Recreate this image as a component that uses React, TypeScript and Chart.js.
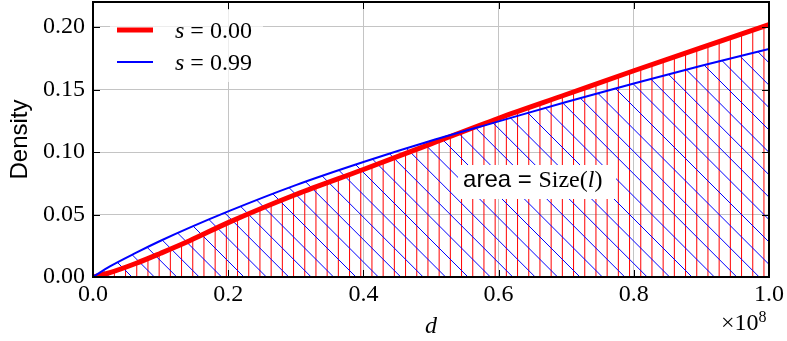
import React, { useEffect, useRef } from 'react';
import { Chart, registerables } from 'chart.js';

Chart.register(...registerables);

// ---- data ----
const xValues = [0, 0.025, 0.064, 0.1, 0.143, 0.2, 0.3, 0.4, 0.5, 0.6, 0.7, 0.8, 0.9, 1.0];
const densityS000 = [0, 0.0035, 0.011, 0.019, 0.029, 0.0435, 0.066, 0.086, 0.1065, 0.127, 0.146, 0.165, 0.1835, 0.202];
const densityS099 = [0, 0.0085, 0.0195, 0.029, 0.0395, 0.0525, 0.0735, 0.092, 0.109, 0.1245, 0.14, 0.1548, 0.169, 0.1825];
const xTickValues = [0, 0.2, 0.4, 0.6, 0.8, 1.0];
const yTickValues = [0, 0.05, 0.1, 0.15, 0.2];
const seriesValues = ['0.00', '0.99'];
const xLabel = 'd';
const yLabel = 'Density';
const xExponent = '8';
const annotationParts = ['area = ', 'Size', '(', 'l', ')'];

const SERIF = "'Liberation Serif', serif";
const SANS = "'Liberation Sans', Arial, sans-serif";

type Run = { text: string; font: string };
function drawRuns(ctx: CanvasRenderingContext2D, runs: Run[], x: number, y: number) {
  for (const r of runs) {
    ctx.font = r.font;
    ctx.fillText(r.text, x, y);
    x += ctx.measureText(r.text).width;
  }
  return x;
}

// hatched areas under each curve, clipped to the line path built by Chart.js
const hatchPlugin = {
  id: 'hatch',
  beforeDatasetsDraw(chart: any) {
    const ctx: CanvasRenderingContext2D = chart.ctx;
    const area = chart.chartArea;
    const { left, right, top, bottom } = area;
    const y0 = chart.scales.y.getPixelForValue(0);
    for (let i = chart.data.datasets.length - 1; i >= 0; i--) {
      const ds: any = chart.data.datasets[i];
      const meta = chart.getDatasetMeta(i);
      const line: any = meta.dataset;
      const pts: any[] = meta.data as any[];
      if (!line || !pts.length) continue;
      if (line.updateControlPoints) line.updateControlPoints(area, 'x');
      ctx.save();
      ctx.beginPath();
      ctx.rect(left, top, right - left, bottom - top);
      ctx.clip();
      ctx.beginPath();
      line.path(ctx);
      ctx.lineTo(pts[pts.length - 1].x, y0);
      ctx.lineTo(pts[0].x, y0);
      ctx.closePath();
      ctx.clip();
      ctx.strokeStyle = ds.borderColor;
      ctx.lineWidth = 1;
      ctx.beginPath();
      if (ds.hatch === 'vertical') {
        for (let x = 2.35; x < right + 12; x += 11.2) {
          if (x < left - 2) continue;
          ctx.moveTo(x, top - 2);
          ctx.lineTo(x, bottom + 2);
        }
      } else {
        const cMin = left - bottom - 30;
        const cMax = right - top + 30;
        const k = Math.floor((cMin - 11.8) / 22.4);
        for (let c = 11.8 + 22.4 * k; c < cMax; c += 22.4) {
          ctx.moveTo(c + top - 5, top - 5);
          ctx.lineTo(c + bottom + 5, bottom + 5);
        }
      }
      ctx.stroke();
      ctx.restore();
    }
  },
};

const decorPlugin = {
  id: 'decor',
  afterDatasetsDraw(chart: any) {
    const ctx: CanvasRenderingContext2D = chart.ctx;
    const { left, right, top, bottom } = chart.chartArea;
    const xs = chart.scales.x;
    const ys = chart.scales.y;
    ctx.save();

    // legend
    ctx.fillStyle = 'rgba(255,255,255,0.7)';
    ctx.fillRect(left + 17, top + 8, 153, 72);
    const legendColors = ['#ff0000', '#0000ff'];
    const legendWidths = [5, 2];
    const rowY = [top + 28, top + 60];
    for (let i = 0; i < seriesValues.length; i++) {
      ctx.strokeStyle = legendColors[i];
      ctx.lineWidth = legendWidths[i];
      ctx.beginPath();
      ctx.moveTo(left + 24, rowY[i]);
      ctx.lineTo(left + 60, rowY[i]);
      ctx.stroke();
      ctx.fillStyle = '#000';
      ctx.textBaseline = 'alphabetic';
      ctx.textAlign = 'left';
      drawRuns(ctx, [
        { text: 's', font: `italic 24px ${SERIF}` },
        { text: ' = ' + seriesValues[i], font: `24px ${SERIF}` },
      ], left + 82, rowY[i] + 8);
    }

    // annotation
    const ax = xs.getPixelForValue(0.54);
    const ay = ys.getPixelForValue(0.072);
    ctx.fillStyle = '#ffffff';
    ctx.fillRect(ax, ay - 22, 158, 34);
    ctx.fillStyle = '#000';
    drawRuns(ctx, [
      { text: annotationParts[0], font: `24px ${SANS}` },
      { text: annotationParts[1], font: `24px ${SERIF}` },
      { text: annotationParts[2], font: `24px ${SERIF}` },
      { text: annotationParts[3], font: `italic 24px ${SERIF}` },
      { text: annotationParts[4], font: `24px ${SERIF}` },
    ], ax + 5, ay);

    // frame
    ctx.strokeStyle = '#000';
    ctx.lineWidth = 2;
    ctx.strokeRect(left, top, right - left, bottom - top);

    // inward ticks
    ctx.lineWidth = 1;
    ctx.beginPath();
    for (const v of xTickValues) {
      const px = Math.round(xs.getPixelForValue(v)) + 0.5;
      ctx.moveTo(px, bottom);
      ctx.lineTo(px, bottom - 7);
      ctx.moveTo(px, top);
      ctx.lineTo(px, top + 7);
    }
    for (const v of yTickValues) {
      const py = Math.round(ys.getPixelForValue(v)) + 0.5;
      ctx.moveTo(left, py);
      ctx.lineTo(left + 7, py);
      ctx.moveTo(right, py);
      ctx.lineTo(right - 7, py);
    }
    ctx.stroke();

    // x offset text
    ctx.fillStyle = '#000';
    ctx.textBaseline = 'alphabetic';
    const ex = drawRuns(ctx, [{ text: '\u00d710', font: `24px ${SERIF}` }], right - 48, bottom + 53);
    ctx.font = `16px ${SERIF}`;
    ctx.fillText(xExponent, ex, bottom + 45);

    ctx.restore();
  },
};

export default function App() {
  const ref = useRef<HTMLCanvasElement>(null);
  useEffect(() => {
    const canvas = ref.current!;
    const chart = new Chart(canvas, {
      type: 'line',
      data: {
        datasets: [
          {
            label: 's = ' + seriesValues[1],
            data: xValues.map((x, i) => ({ x, y: densityS099[i] })),
            borderColor: '#0000ff',
            borderWidth: 2,
            pointRadius: 0,
            cubicInterpolationMode: 'monotone',
            fill: false,
            hatch: 'diagonal',
          },
          {
            label: 's = ' + seriesValues[0],
            data: xValues.map((x, i) => ({ x, y: densityS000[i] })),
            borderColor: '#ff0000',
            borderWidth: 5,
            pointRadius: 0,
            cubicInterpolationMode: 'monotone',
            fill: false,
            hatch: 'vertical',
          },
        ],
      },
      options: {
        animation: false,
        responsive: false,
        maintainAspectRatio: false,
        layout: { padding: { left: 0, right: 18, top: 2, bottom: 0 } },
        plugins: { legend: { display: false }, tooltip: { enabled: false } },
        scales: {
          x: {
            type: 'linear', min: 0, max: 1,
            afterBuildTicks: (s: any) => { s.ticks = xTickValues.map((v) => ({ value: v })); },
            afterFit: (s: any) => { s.height = 64; s.paddingLeft = 0; s.paddingRight = 0; },
            ticks: { callback: (v: any) => Number(v).toFixed(1), font: { family: SERIF, size: 24 }, color: '#000', padding: 3, maxRotation: 0, autoSkip: false },
            grid: { color: '#c4c4c4', lineWidth: 1, drawTicks: false },
            border: { display: false },
            title: { display: true, text: xLabel, font: { family: SERIF, size: 24, style: 'italic' }, color: '#000', padding: 0 },
          },
          y: {
            type: 'linear', min: 0, max: 0.22,
            afterBuildTicks: (s: any) => { s.ticks = yTickValues.map((v) => ({ value: v })); },
            afterFit: (s: any) => { s.width = 93; s.paddingTop = 0; s.paddingBottom = 0; },
            ticks: { callback: (v: any) => Number(v).toFixed(2), font: { family: SERIF, size: 24 }, color: '#000', padding: 8, autoSkip: false },
            grid: { color: '#c4c4c4', lineWidth: 1, drawTicks: false },
            border: { display: false },
            title: { display: true, text: yLabel, font: { family: SANS, size: 24 }, color: '#000', padding: { top: 6, bottom: 0 } },
          },
        },
      },
      plugins: [hatchPlugin, decorPlugin],
    } as any);
    return () => chart.destroy();
  }, []);
  return (
    <div style={{ position: 'absolute', left: 0, top: 0, width: 787, height: 341 }}>
      <canvas ref={ref} width={787} height={341} style={{ display: 'block' }} />
    </div>
  );
}
